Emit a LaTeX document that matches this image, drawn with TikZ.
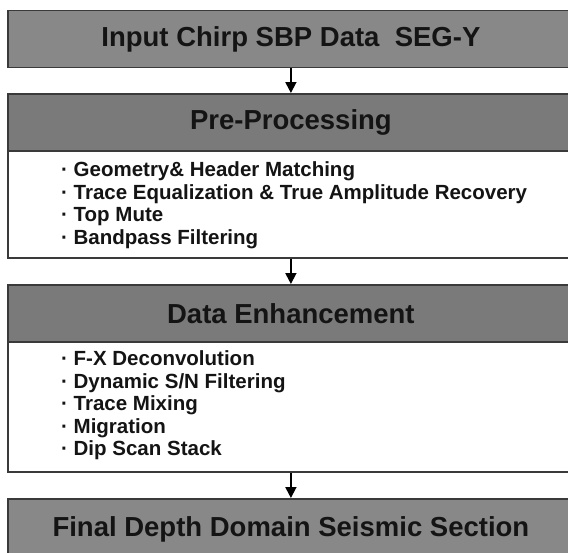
\documentclass[tikz,border=0pt]{standalone}
\usepackage{fontspec}
\setmainfont{Liberation Sans}
\usetikzlibrary{arrows.meta}
\definecolor{hdrA}{RGB}{136,136,136}
\definecolor{hdrB}{RGB}{122,122,122}
\definecolor{edge}{RGB}{58,58,58}
\definecolor{ink}{RGB}{20,20,20}
\newcommand{\bul}[1]{\makebox[12.5pt][l]{·}#1}
\tikzset{
  hdr/.style={draw=edge, line width=1.8pt, minimum width=566pt, minimum height=57pt,
    anchor=north west, inner sep=0pt, text=ink,
    font=\fontsize{27.5}{30}\selectfont\bfseries},
  bodybox/.style={draw=edge, line width=1.8pt, fill=white, minimum width=566pt,
    anchor=north west, inner sep=0pt},
  listtxt/.style={anchor=north west, inner sep=0pt, align=left, text=ink,
    font=\fontsize{20.5}{22.6}\selectfont\bfseries},
  arr/.style={draw=black, line width=1.8pt, -{Triangle[width=11pt,length=11pt]}},
}
\begin{document}
\begin{tikzpicture}[x=1pt,y=-1pt]
\useasboundingbox (0,0) rectangle (568,552);
\clip (0,0) rectangle (568,552);
\fill[white] (0,0) rectangle (568,552);

\node[hdr, fill=hdrA] (b1) at (7,9.5) {Input Chirp SBP Data\ \ SEG-Y};

\node[hdr, fill=hdrB] (b2h) at (7,93) {Pre-Processing};
\node[bodybox, minimum height=107pt] (b2b) at (7,150) {};
\node[listtxt] (l2) at (61,161.5) {\bul{Geometry\& Header Matching}\\
\bul{Trace Equalization \& True Amplitude Recovery}\\
\bul{Top Mute}\\
\bul{Bandpass Filtering}};

\node[hdr, fill=hdrB] (b3h) at (7,284) {Data Enhancement};
\node[bodybox, minimum height=130pt] (b3b) at (7,341) {};
\node[listtxt] (l3) at (61,350.5) {\bul{F-X Deconvolution}\\
\bul{Dynamic S/N Filtering}\\
\bul{Trace Mixing}\\
\bul{Migration}\\
\bul{Dip Scan Stack}};

\node[hdr, fill=hdrA, minimum height=60pt] (b4) at (7,498) {Final Depth Domain Seismic Section};

\draw[arr] (b1.south) -- (b2h.north);
\draw[arr] (b2b.south) -- (b3h.north);
\draw[arr] (b3b.south) -- (b4.north);
\end{tikzpicture}
\end{document}
